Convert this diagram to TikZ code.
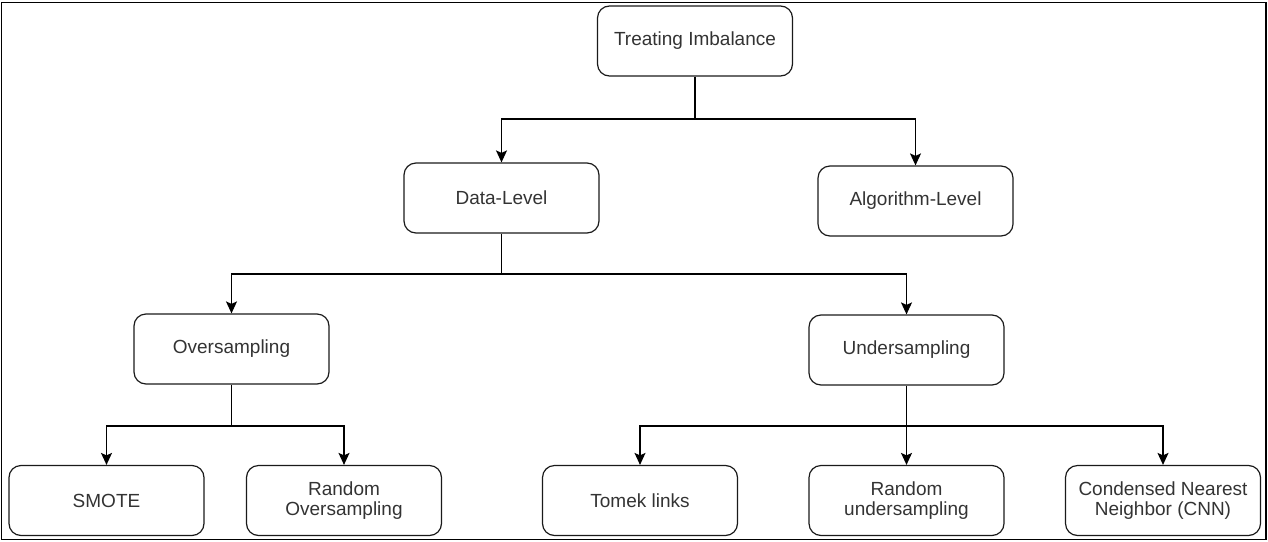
\documentclass[tikz,border=0pt]{standalone}
\usepackage{fontspec}
\setmainfont{Liberation Sans}
\usetikzlibrary{arrows.meta}
\definecolor{txt}{HTML}{333333}
\definecolor{edge}{HTML}{1A1A1A}
\begin{document}
\begin{tikzpicture}[x=1pt,y=-1pt,
  box/.style={draw=edge, line width=1.2pt, rounded corners=12pt,
    minimum width=195pt, minimum height=70pt, align=center,
    text=txt, font=\fontsize{19}{20.5}\selectfont},
  arr/.style={draw=black, line width=1.4pt,
    -{Stealth[length=12pt,width=11pt,inset=2.5pt]}}]
\useasboundingbox (0,0) rectangle (1268,541);
% outer frame
\draw[line width=1.5pt] (1.5,2.5) rectangle (1266,539.5);

% tree nodes
\node[box] (ti)  at (695,41)    {Treating Imbalance};
\node[box] (dl)  at (501.5,198) {Data-Level};
\node[box] (al)  at (915.5,201) {Algorithm-Level};
\node[box] (ov)  at (231.5,349) {Oversampling};
\node[box] (un)  at (906.5,350) {Undersampling};
\node[box] (sm)  at (106.5,500.5) {SMOTE};
\node[box] (ro)  at (344,500.5) {Random\\Oversampling};
\node[box] (tl)  at (640,500.5) {Tomek links};
\node[box] (ru)  at (906.5,500.5) {Random\\undersampling};
\node[box] (cnn) at (1163,500.5) {Condensed Nearest\\Neighbor (CNN)};

% branch points
\coordinate (j1) at (695,119);
\coordinate (j2) at (501.5,274);
\coordinate (j3) at (231.5,426);
\coordinate (j4) at (906.5,426);

% connectors
\draw[line width=1.4pt] (ti.south) -- (j1);
\draw[arr] (j1) -| (dl.north);
\draw[arr] (j1) -| (al.north);

\draw[line width=1.4pt] (dl.south) -- (j2);
\draw[arr] (j2) -| (ov.north);
\draw[arr] (j2) -| (un.north);

\draw[line width=1.4pt] (ov.south) -- (j3);
\draw[arr] (j3) -| (sm.north);
\draw[arr] (j3) -| (ro.north);

\draw[arr] (un.south) -- (ru.north);
\draw[arr] (j4) -| (tl.north);
\draw[arr] (j4) -| (cnn.north);
\end{tikzpicture}
\end{document}
